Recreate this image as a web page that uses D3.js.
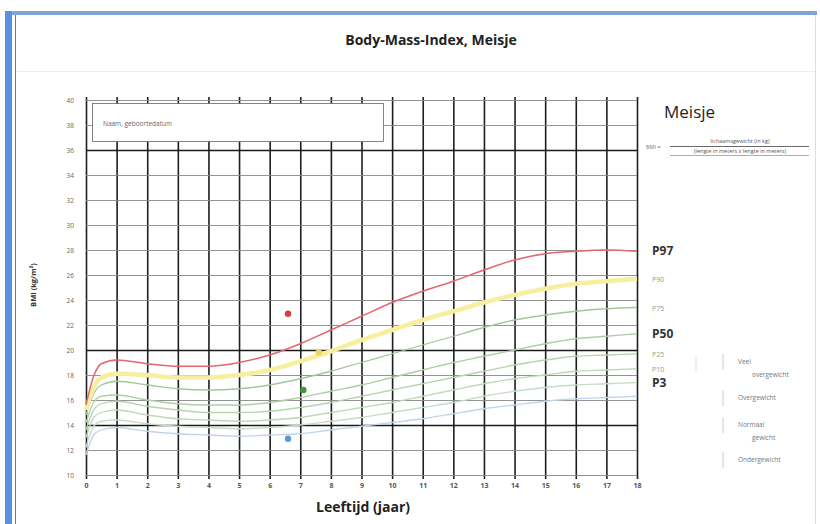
<!doctype html>
<html>
<head>
    <meta charset="UTF-8">
    <title>Body-Mass-Index, Meisje</title>
    <script src="https://d3js.org/d3.v7.min.js"></script>
    <style>
        body { margin: 0; background: #fff; }
        text { font-family: "Open Sans", "DejaVu Sans", sans-serif; }
    </style>
</head>
<body>
    <svg class="bmi" width="820" height="524"></svg>
    <script>
        // leeftijd (jaar) en BMI-percentielen
        var ages = [0, 0.25, 0.5, 1, 2, 3, 4, 5, 6, 7, 8, 9, 10, 11, 12, 13, 14, 15, 16, 17, 18];
        var p97 = [15.6, 17.9, 18.9, 19.2, 18.9, 18.7, 18.7, 19.0, 19.6, 20.5, 21.6, 22.7, 23.8, 24.7, 25.5, 26.4, 27.2, 27.7, 27.9, 28.0, 27.9];
        var p90 = [15.2, 17.0, 17.8, 18.1, 18.0, 17.8, 17.8, 18.0, 18.4, 19.1, 19.9, 20.8, 21.6, 22.4, 23.1, 23.8, 24.4, 24.9, 25.3, 25.5, 25.7];
        var p75 = [14.8, 16.5, 17.2, 17.5, 17.2, 16.9, 16.8, 16.9, 17.2, 17.7, 18.3, 19.0, 19.7, 20.4, 21.1, 21.8, 22.4, 22.8, 23.1, 23.3, 23.4];
        var p50 = [14.2, 15.8, 16.3, 16.4, 16.0, 15.7, 15.6, 15.6, 15.8, 16.2, 16.7, 17.2, 17.8, 18.4, 19.0, 19.5, 20.0, 20.5, 20.9, 21.1, 21.3];
        var p25 = [13.6, 15.2, 15.7, 15.9, 15.5, 15.2, 15.0, 15.0, 15.1, 15.4, 15.8, 16.3, 16.8, 17.3, 17.8, 18.3, 18.8, 19.2, 19.5, 19.6, 19.7];
        var p10 = [13.0, 14.6, 15.0, 15.2, 14.8, 14.5, 14.4, 14.3, 14.4, 14.6, 15.0, 15.4, 15.8, 16.3, 16.8, 17.3, 17.7, 18.0, 18.3, 18.4, 18.5];
        var p3 = [12.2, 13.9, 14.3, 14.4, 14.1, 13.9, 13.8, 13.7, 13.8, 14.0, 14.3, 14.6, 15.0, 15.4, 15.8, 16.3, 16.7, 17.0, 17.2, 17.3, 17.4];
        var pLow = [11.6, 13.2, 13.6, 13.8, 13.5, 13.3, 13.2, 13.1, 13.2, 13.3, 13.6, 13.9, 14.2, 14.5, 14.9, 15.3, 15.6, 15.9, 16.1, 16.2, 16.3];

        var curveNames = ["P97", "P90", "P75", "P50", "P25", "P10", "P3", ""];
        var curveValues = [p97, p90, p75, p50, p25, p10, p3, pLow];
        var curveColors = ["#e36670", "#f7efa0", "#a3c79a", "#aecfa3", "#b7d5ad", "#bfd9b8", "#c6dcc8", "#c2d4ea"];
        var curveWidths = [1.5, 4.5, 1.3, 1.3, 1.3, 1.3, 1.3, 1.3];
        var boldNames = ["P97", "P50", "P3"];

        // metingen (punten)
        var pointAges = [6.6, 7.6, 7.1, 6.6];
        var pointBmi = [22.9, 19.8, 16.8, 12.9];
        var pointColors = ["#e23a3a", "#f0d26a", "#3f9a34", "#5b98d6"];

        var xTicks = d3.range(0, 19);
        var yTicks = d3.range(10, 41, 2);
        var thickY = [14, 20, 36];

        var legendLabels = [["Veel", "overgewicht"], ["Overgewicht"], ["Normaal", "gewicht"], ["Ondergewicht"]];

        var svg = d3.select(".bmi");
        var x = d3.scaleLinear().domain([0, 18]).range([86, 637]);
        var y = d3.scaleLinear().domain([10, 40]).range([475, 100]);

        // kader
        svg.append("rect").attr("x", 5).attr("y", 11).attr("width", 812).attr("height", 4).attr("fill", "#7fa3dc");
        svg.append("rect").attr("x", 5).attr("y", 11).attr("width", 7).attr("height", 513).attr("fill", "#5b8fe0");
        svg.append("line").attr("x1", 15.5).attr("x2", 15.5).attr("y1", 15).attr("y2", 524).attr("stroke", "#777").attr("stroke-width", 1);
        svg.append("line").attr("x1", 16).attr("x2", 816).attr("y1", 71.5).attr("y2", 71.5).attr("stroke", "#eee").attr("stroke-width", 1);
        svg.append("line").attr("x1", 815.5).attr("x2", 815.5).attr("y1", 15).attr("y2", 524).attr("stroke", "#ddd").attr("stroke-width", 1);

        svg.append("text").attr("x", 431).attr("y", 45).attr("text-anchor", "middle")
            .attr("font-size", 14).attr("font-weight", "bold").attr("fill", "#222")
            .text("Body-Mass-Index, Meisje");

        // raster
        var gx = svg.append("g").attr("transform", "translate(0,475)")
            .call(d3.axisBottom(x).tickValues(xTicks).tickSize(-378).tickPadding(8).tickFormat(d3.format("d")));
        gx.select(".domain").remove();
        gx.selectAll(".tick line").attr("stroke", "#1e1e1e").attr("stroke-width", 1.6).attr("y1", 4);
        gx.selectAll(".tick text").attr("font-size", 7).attr("fill", "#555").attr("font-weight", "bold");

        var gy = svg.append("g").attr("transform", "translate(86,0)")
            .call(d3.axisLeft(y).tickValues(yTicks).tickSize(-551).tickPadding(12));
        gy.select(".domain").remove();
        gy.selectAll(".tick line")
            .attr("stroke", function (d) { return thickY.indexOf(d) >= 0 ? "#1a1a1a" : "#888"; })
            .attr("stroke-width", function (d) { return thickY.indexOf(d) >= 0 ? 1.4 : 0.9; });
        gy.selectAll(".tick text").attr("font-size", 6.5).attr("fill", "#666");

        // vak voor naam en geboortedatum
        svg.append("rect").attr("x", 92.5).attr("y", 103.5).attr("width", 291).attr("height", 38)
            .attr("fill", "#fff").attr("stroke", "#666").attr("stroke-width", 0.8);
        svg.append("text").attr("x", 103).attr("y", 126).attr("font-size", 6.5).attr("fill", "#666")
            .text("Naam, geboortedatum");

        // percentiellijnen
        var line = d3.line()
            .x(function (d) { return x(d[0]); })
            .y(function (d) { return y(d[1]); })
            .curve(d3.curveMonotoneX);

        for (var i = curveValues.length - 1; i >= 0; i--) {
            var pts = ages.map(function (a, j) { return [a, curveValues[i][j]]; });
            svg.append("path").datum(pts).attr("d", line)
                .attr("fill", "none")
                .attr("stroke", curveColors[i])
                .attr("stroke-width", curveWidths[i]);
        }

        // labels rechts
        curveNames.forEach(function (name, i) {
            if (!name) return;
            var bold = boldNames.indexOf(name) >= 0;
            svg.append("text")
                .attr("x", 652)
                .attr("y", y(curveValues[i][curveValues[i].length - 1]) + (bold ? 4 : 3))
                .attr("font-family", "'Liberation Serif', serif")
                .attr("font-size", bold ? 12 : 7)
                .attr("font-weight", bold ? "bold" : "normal")
                .attr("fill", bold ? "#333" : "#999")
                .text(name);
        });

        // metingen
        svg.selectAll("circle.meting").data(pointAges).enter().append("circle")
            .attr("class", "meting")
            .attr("cx", function (d) { return x(d); })
            .attr("cy", function (d, i) { return y(pointBmi[i]); })
            .attr("r", 3.2)
            .attr("fill", function (d, i) { return pointColors[i]; });

        // rechterkant: titel en formule
        svg.append("text").attr("x", 664).attr("y", 118).attr("font-size", 17).attr("fill", "#222").text("Meisje");
        svg.append("text").attr("x", 646).attr("y", 149).attr("font-size", 5.5).attr("fill", "#777").text("BMI =");
        svg.append("text").attr("x", 740).attr("y", 143).attr("text-anchor", "middle").attr("font-size", 5.5).attr("fill", "#555")
            .text("lichaamsgewicht (in kg)");
        svg.append("line").attr("x1", 670).attr("x2", 809).attr("y1", 146.5).attr("y2", 146.5).attr("stroke", "#444").attr("stroke-width", 0.8);
        svg.append("text").attr("x", 740).attr("y", 153).attr("text-anchor", "middle").attr("font-size", 5.5).attr("fill", "#555")
            .text("(lengte in meters x lengte in meters)");
        svg.append("line").attr("x1", 670).attr("x2", 809).attr("y1", 155.5).attr("y2", 155.5).attr("stroke", "#777").attr("stroke-width", 0.6);

        // legenda
        var legendY = [364, 400, 427, 462];
        legendLabels.forEach(function (lines, i) {
            lines.forEach(function (t, k) {
                svg.append("text").attr("x", 738 + k * 14).attr("y", legendY[i] + k * 13)
                    .attr("font-size", 6.5).attr("fill", "#777").text(t);
            });
            svg.append("line").attr("x1", 723).attr("x2", 723)
                .attr("y1", legendY[i] - 10).attr("y2", legendY[i] + 6)
                .attr("stroke", "#ccc").attr("stroke-width", 1);
        });
        svg.append("line").attr("x1", 696).attr("x2", 696).attr("y1", 357).attr("y2", 372)
            .attr("stroke", "#ddd").attr("stroke-width", 1);

        // ashoeken
        svg.append("text").attr("transform", "translate(36,285) rotate(-90)").attr("text-anchor", "middle")
            .attr("font-size", 7.5).attr("font-weight", "bold").attr("fill", "#333").text("BMI (kg/m²)");
        svg.append("text").attr("x", 363).attr("y", 512).attr("text-anchor", "middle")
            .attr("font-size", 14).attr("font-weight", "bold").attr("fill", "#222").text("Leeftijd (jaar)");
    </script>
</body>
</html>
